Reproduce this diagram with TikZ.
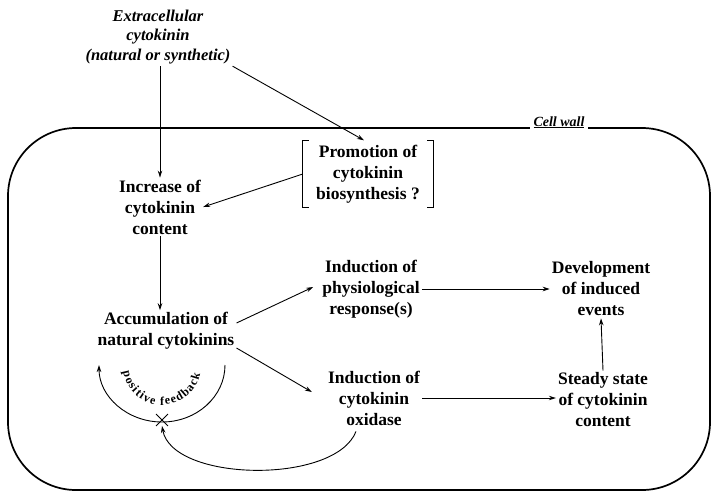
\documentclass[tikz,border=0pt]{standalone}
\usepackage{fontspec}
\setmainfont{Liberation Serif}
\usetikzlibrary{arrows.meta,decorations.text,shapes.misc}
\tikzset{
  lbl/.style={font=\bfseries\fontsize{17.5}{21}\selectfont, align=center, inner sep=2pt},
  itl/.style={font=\bfseries\itshape\fontsize{16.5}{19.5}\selectfont, align=center, inner sep=2pt},
  arr/.style={line width=0.9pt, -{Stealth[length=7pt,width=4.5pt]}},
  wall/.style={line width=1.7pt, rounded corners=68pt},
  brk/.style={line width=0.9pt},
}
\begin{document}
\begin{tikzpicture}[x=1pt,y=1pt]
\useasboundingbox (0,0) rectangle (712,-499);
% cell wall
\draw[wall] (8,-128) rectangle (710,-490);
\node[fill=white, inner xsep=4pt, inner ysep=1pt, anchor=base, font=\bfseries\itshape\fontsize{14}{15}\selectfont] (cw) at (559,-126) {\underline{Cell wall}};

% nodes
\node[itl] (ext) at (158,-37) {Extracellular\\cytokinin\\(natural or synthetic)};
\node[lbl, minimum width=130pt, minimum height=67pt] (promo) at (368,-174) {Promotion of\\cytokinin\\biosynthesis ?};
\draw[brk] ([xshift=6pt]promo.north west) -- (promo.north west) -- (promo.south west) -- ++(6pt,0);
\draw[brk] ([xshift=-6pt]promo.north east) -- (promo.north east) -- (promo.south east) -- ++(-6pt,0);
\node[lbl] (incr) at (160,-207) {Increase of\\cytokinin\\content};
\node[lbl] (accum) at (166,-331) {Accumulation of\\natural cytokinins};
\node[lbl] (phys) at (371,-289) {Induction of\\physiological\\response(s)};
\node[lbl] (dev) at (601,-289) {Development\\of induced\\events};
\node[lbl] (oxid) at (374,-398) {Induction of\\cytokinin\\oxidase};
\node[lbl] (steady) at (603,-400) {Steady state\\of cytokinin\\content};
\node[cross out, draw, line width=0.9pt, minimum size=11pt, inner sep=0pt] (xm) at (162,-420) {};
\coordinate (fbR) at (225,-365);

% connectors
\draw[arr] (ext.south -| incr.north) -- (incr.north);
\draw[arr] (ext.south east) -- ([xshift=-4pt]promo.north);
\draw[arr] (promo.west) -- (incr.east);
\draw[arr] (incr.south) -- (incr.south |- accum.north);
\draw[arr] ([yshift=8pt]accum.east) -- ([xshift=-7pt,yshift=2pt]phys.west);
\draw[arr] ([yshift=-17pt]accum.east) -- ([xshift=-14pt,yshift=6pt]oxid.west);
\draw[arr] (phys.east) -- (dev.west |- phys.east);
\draw[arr] (oxid.east) -- (steady.west |- oxid.east);
\draw[arr] (steady.north) -- (dev.south);
% positive feedback loop
\draw[arr] (fbR) arc[start angle=0, end angle=-180, x radius=63, y radius=57];
\path[decorate, decoration={text along path, text align={fit to path},
  text={|\bfseries\fontsize{12}{12}\selectfont|positive feedback}}]
  (162,-366) ++(-172:39) arc[start angle=-172, end angle=-12, radius=39];
\draw[arr] ([xshift=-18pt,yshift=-4pt]oxid.south) .. controls (335,-485) and (172,-482) .. (xm.south);
\end{tikzpicture}
\end{document}
